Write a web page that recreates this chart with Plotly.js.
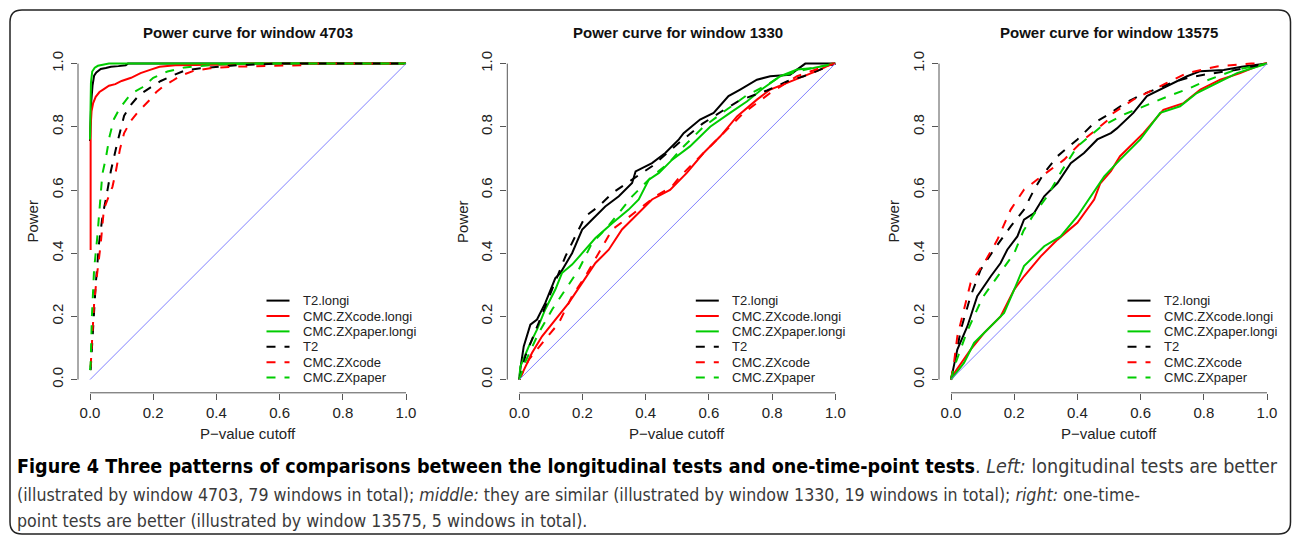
<!DOCTYPE html>
<html>
<head>
<meta charset="utf-8">
<script src="https://cdn.plot.ly/plotly-3.0.1.min.js"></script>
<style>html,body{margin:0;padding:0;background:#fff;}#chart{width:1293px;height:536px;}</style>
</head>
<body>
<div id="chart"></div>
<script>
// ---------------- DATA ----------------
const seriesNames = ['T2.longi','CMC.ZXcode.longi','CMC.ZXpaper.longi','T2','CMC.ZXcode','CMC.ZXpaper'];
const panelTitles = ['Power curve for window 4703','Power curve for window 1330','Power curve for window 13575'];
const tickVals = [0, 0.2, 0.4, 0.6, 0.8, 1.0];
const tickText = ['0.0','0.2','0.4','0.6','0.8','1.0'];
const diagX = [0, 1];
const diagY = [0, 1];

// window 4703
const w4703_T2longi_x = [0, 0.004, 0.008, 0.013, 0.02, 0.034, 0.05, 0.066, 0.09, 0.113, 0.12, 1.0];
const w4703_T2longi_y = [0.755, 0.88, 0.93, 0.962, 0.972, 0.983, 0.986, 0.99, 0.992, 0.995, 1.0, 1.0];
const w4703_ZXcodelongi_x = [0.002, 0.002, 0.005, 0.01, 0.018, 0.03, 0.045, 0.06, 0.08, 0.1, 0.13, 0.16, 0.19, 0.22, 0.27, 0.45, 0.5, 1.0];
const w4703_ZXcodelongi_y = [0.41, 0.80, 0.85, 0.875, 0.895, 0.91, 0.92, 0.93, 0.935, 0.945, 0.955, 0.97, 0.98, 0.99, 0.995, 0.997, 1.0, 1.0];
const w4703_ZXpaperlongi_x = [0, 0.003, 0.007, 0.015, 0.025, 0.04, 0.06, 1.0];
const w4703_ZXpaperlongi_y = [0.76, 0.94, 0.975, 0.987, 0.993, 0.997, 1.0, 1.0];
const w4703_T2_x = [0.002, 0.007, 0.012, 0.018, 0.0285, 0.04, 0.05, 0.066, 0.0865, 0.108, 0.13, 0.155, 0.192, 0.224, 0.261, 0.3, 0.35, 0.4, 0.47, 0.6, 1.0];
const w4703_T2_y = [0.03, 0.12, 0.2, 0.3, 0.43, 0.52, 0.57, 0.66, 0.75, 0.835, 0.87, 0.9, 0.925, 0.945, 0.962, 0.978, 0.985, 0.99, 0.995, 1.0, 1.0];
const w4703_ZXcode_x = [0.002, 0.008, 0.013, 0.022, 0.034, 0.044, 0.058, 0.071, 0.081, 0.095, 0.108, 0.13, 0.15, 0.17, 0.192, 0.21, 0.234, 0.26, 0.287, 0.33, 0.38, 0.45, 0.55, 0.67, 0.68, 1.0];
const w4703_ZXcode_y = [0.04, 0.15, 0.24, 0.33, 0.43, 0.54, 0.58, 0.61, 0.655, 0.73, 0.78, 0.82, 0.845, 0.865, 0.888, 0.91, 0.93, 0.945, 0.962, 0.978, 0.985, 0.99, 0.993, 0.995, 1.0, 1.0];
const w4703_ZXpaper_x = [0, 0.002, 0.006, 0.013, 0.023, 0.03, 0.039, 0.05, 0.062, 0.076, 0.095, 0.118, 0.14, 0.166, 0.2, 0.245, 0.3, 0.35, 0.4, 0.5, 1.0];
const w4703_ZXpaper_y = [0.03, 0.05, 0.2, 0.35, 0.45, 0.53, 0.65, 0.7, 0.77, 0.825, 0.86, 0.89, 0.91, 0.925, 0.955, 0.975, 0.988, 0.992, 0.997, 1.0, 1.0];

// window 1330
const w1330_T2longi_x = [0, 0.003, 0.014, 0.035, 0.056, 0.082, 0.114, 0.13, 0.167, 0.199, 0.23, 0.272, 0.315, 0.357, 0.368, 0.42, 0.462, 0.505, 0.52, 0.572, 0.615, 0.662, 0.699, 0.752, 0.794, 0.857, 0.905, 1.0];
const w1330_T2longi_y = [0, 0.032, 0.105, 0.174, 0.19, 0.242, 0.321, 0.337, 0.40, 0.475, 0.506, 0.548, 0.58, 0.622, 0.659, 0.685, 0.717, 0.76, 0.78, 0.823, 0.844, 0.897, 0.918, 0.949, 0.96, 0.965, 1.0, 1.0];
const w1330_ZXcodelongi_x = [0, 0.005, 0.04, 0.072, 0.114, 0.156, 0.199, 0.241, 0.283, 0.325, 0.367, 0.42, 0.477, 0.53, 0.583, 0.636, 0.689, 0.752, 0.794, 0.847, 0.9, 0.952, 0.99, 1.0];
const w1330_ZXcodelongi_y = [0, 0.01, 0.084, 0.137, 0.19, 0.242, 0.306, 0.369, 0.411, 0.475, 0.517, 0.57, 0.60, 0.654, 0.717, 0.77, 0.833, 0.886, 0.918, 0.939, 0.96, 0.981, 1.0, 1.0];
const w1330_ZXpaperlongi_x = [0, 0.003, 0.03, 0.056, 0.082, 0.114, 0.135, 0.167, 0.199, 0.241, 0.294, 0.346, 0.378, 0.41, 0.442, 0.484, 0.54, 0.604, 0.667, 0.72, 0.773, 0.826, 0.879, 0.931, 1.0];
const w1330_ZXpaperlongi_y = [0, 0.04, 0.105, 0.158, 0.222, 0.285, 0.337, 0.364, 0.40, 0.448, 0.495, 0.538, 0.57, 0.633, 0.654, 0.696, 0.738, 0.80, 0.844, 0.88, 0.923, 0.96, 0.981, 0.986, 1.0];
const w1330_T2_x = [0, 0.019, 0.061, 0.104, 0.146, 0.177, 0.209, 0.251, 0.294, 0.357, 0.42, 0.5, 0.58, 0.65, 0.7, 0.784, 0.85, 0.9, 0.95, 1.0];
const w1330_T2_y = [0, 0.074, 0.179, 0.285, 0.39, 0.453, 0.517, 0.548, 0.59, 0.633, 0.675, 0.745, 0.81, 0.855, 0.885, 0.915, 0.945, 0.96, 0.98, 1.0];
const w1330_ZXcode_x = [0, 0.03, 0.082, 0.125, 0.167, 0.209, 0.251, 0.294, 0.336, 0.378, 0.431, 0.484, 0.509, 0.572, 0.646, 0.71, 0.794, 0.879, 0.963, 1.0];
const w1330_ZXcode_y = [0, 0.063, 0.127, 0.179, 0.264, 0.327, 0.40, 0.475, 0.506, 0.538, 0.58, 0.612, 0.643, 0.706, 0.78, 0.844, 0.907, 0.96, 0.99, 1.0];
const w1330_ZXpaper_x = [0, 0.016, 0.061, 0.104, 0.146, 0.188, 0.23, 0.272, 0.315, 0.357, 0.42, 0.473, 0.515, 0.583, 0.65, 0.72, 0.78, 0.826, 0.9, 0.95, 1.0];
const w1330_ZXpaper_y = [0, 0.05, 0.147, 0.222, 0.285, 0.348, 0.432, 0.475, 0.527, 0.58, 0.643, 0.685, 0.733, 0.80, 0.85, 0.90, 0.93, 0.96, 0.98, 0.99, 1.0];

// window 13575
const w13575_T2longi_x = [0, 0.02, 0.052, 0.083, 0.126, 0.157, 0.178, 0.21, 0.231, 0.263, 0.295, 0.337, 0.379, 0.421, 0.463, 0.506, 0.525, 0.577, 0.62, 0.683, 0.747, 0.789, 0.863, 0.92, 1.0];
const w13575_T2longi_y = [0, 0.095, 0.169, 0.264, 0.327, 0.369, 0.411, 0.453, 0.506, 0.527, 0.58, 0.622, 0.685, 0.717, 0.76, 0.78, 0.795, 0.844, 0.897, 0.928, 0.96, 0.976, 0.98, 0.99, 1.0];
const w13575_ZXcodelongi_x = [0, 0.01, 0.062, 0.105, 0.157, 0.2, 0.231, 0.284, 0.337, 0.4, 0.453, 0.472, 0.506, 0.535, 0.609, 0.672, 0.736, 0.789, 0.852, 0.915, 0.978, 1.0];
const w13575_ZXcodelongi_y = [0, 0.02, 0.095, 0.148, 0.2, 0.285, 0.327, 0.39, 0.443, 0.496, 0.57, 0.62, 0.66, 0.707, 0.78, 0.854, 0.875, 0.918, 0.949, 0.97, 0.995, 1.0];
const w13575_ZXpaperlongi_x = [0, 0.041, 0.073, 0.115, 0.168, 0.2, 0.231, 0.295, 0.347, 0.4, 0.443, 0.485, 0.535, 0.599, 0.662, 0.725, 0.778, 0.842, 0.905, 0.968, 1.0];
const w13575_ZXpaperlongi_y = [0, 0.053, 0.116, 0.158, 0.211, 0.285, 0.359, 0.422, 0.453, 0.517, 0.58, 0.643, 0.696, 0.76, 0.844, 0.865, 0.907, 0.939, 0.97, 0.99, 1.0];
const w13575_T2_x = [0, 0.0095, 0.031, 0.062, 0.094, 0.136, 0.189, 0.231, 0.263, 0.295, 0.337, 0.4, 0.453, 0.506, 0.55, 0.6, 0.65, 0.7, 0.75, 0.8, 0.9, 0.95, 1.0];
const w13575_T2_y = [0, 0.043, 0.158, 0.264, 0.348, 0.411, 0.485, 0.538, 0.601, 0.654, 0.707, 0.76, 0.812, 0.844, 0.875, 0.9, 0.92, 0.94, 0.955, 0.965, 0.98, 0.99, 1.0];
const w13575_ZXcode_x = [0, 0.0095, 0.02, 0.041, 0.062, 0.105, 0.147, 0.189, 0.231, 0.273, 0.316, 0.358, 0.421, 0.495, 0.514, 0.577, 0.683, 0.747, 0.842, 0.9, 0.95, 1.0];
const w13575_ZXcode_y = [0, 0.053, 0.137, 0.222, 0.306, 0.369, 0.443, 0.538, 0.601, 0.633, 0.665, 0.696, 0.76, 0.82, 0.844, 0.886, 0.939, 0.97, 0.991, 0.995, 1.0, 1.0];
const w13575_ZXpaper_x = [0, 0.01, 0.05, 0.1, 0.15, 0.2, 0.229, 0.26, 0.303, 0.35, 0.4, 0.474, 0.55, 0.62, 0.683, 0.75, 0.81, 0.9, 0.95, 1.0];
const w13575_ZXpaper_y = [0, 0.04, 0.15, 0.26, 0.33, 0.40, 0.47, 0.52, 0.578, 0.66, 0.738, 0.80, 0.84, 0.87, 0.895, 0.92, 0.947, 0.98, 0.99, 1.0];

const captionLine1 = [
  {t:'Figure 4 Three patterns of comparisons between the longitudinal tests and one-time-point tests', b:true},
  {t:'. '}, {t:'Left:', i:true}, {t:' longitudinal tests are better'}];
const captionLine2 = [
  {t:'(illustrated by window 4703, 79 windows in total); '}, {t:'middle:', i:true},
  {t:' they are similar (illustrated by window 1330, 19 windows in total); '}, {t:'right:', i:true}, {t:' one-time-'}];
const captionLine3 = [{t:'point tests are better (illustrated by window 13575, 5 windows in total).'}];

// ---------------- STYLE / LAYOUT ----------------
const panels = [
  [[w4703_T2longi_x,w4703_T2longi_y],[w4703_ZXcodelongi_x,w4703_ZXcodelongi_y],[w4703_ZXpaperlongi_x,w4703_ZXpaperlongi_y],
   [w4703_T2_x,w4703_T2_y],[w4703_ZXcode_x,w4703_ZXcode_y],[w4703_ZXpaper_x,w4703_ZXpaper_y]],
  [[w1330_T2longi_x,w1330_T2longi_y],[w1330_ZXcodelongi_x,w1330_ZXcodelongi_y],[w1330_ZXpaperlongi_x,w1330_ZXpaperlongi_y],
   [w1330_T2_x,w1330_T2_y],[w1330_ZXcode_x,w1330_ZXcode_y],[w1330_ZXpaper_x,w1330_ZXpaper_y]],
  [[w13575_T2longi_x,w13575_T2longi_y],[w13575_ZXcodelongi_x,w13575_ZXcodelongi_y],[w13575_ZXpaperlongi_x,w13575_ZXpaperlongi_y],
   [w13575_T2_x,w13575_T2_y],[w13575_ZXcode_x,w13575_ZXcode_y],[w13575_ZXpaper_x,w13575_ZXpaper_y]]
];
const colors = ['#000000','#ff0000','#00cc00','#000000','#ff0000','#00cc00'];
const dashes = ['solid','solid','solid','dash','dash','dash'];

const W = 1293, H = 536;
const FONT = "'Liberation Sans', Arial, Helvetica, sans-serif";
const px = p => p / W;
const py = p => (H - p) / H;

const X0 = [90, 519.3, 951];   // pixel of data x=0 in each panel
const UNIT = 316;              // pixels per data unit
const Y0 = 379.6;              // pixel of data y=0
const XOFF = 12, YOFF = 13.2;  // R-style axis offsets
const TOP = 1.04;

const data = [];
const layout = {
  width: W, height: H, margin: {l:0, r:0, t:0, b:0},
  paper_bgcolor: '#fff', plot_bgcolor: 'rgba(0,0,0,0)',
  showlegend: false, font: {family: FONT, color: '#222', size: 15},
  shapes: [], annotations: []
};

panels.forEach((series, p) => {
  const xa = p === 0 ? 'x' : 'x' + (p + 1);
  const ya = p === 0 ? 'y' : 'y' + (p + 1);
  series.forEach((s, k) => {
    data.push({x: s[0], y: s[1], xaxis: xa, yaxis: ya, type: 'scatter', mode: 'lines',
      name: seriesNames[k], line: {color: colors[k], width: 2, dash: dashes[k]}, hoverinfo: 'skip'});
  });
  data.push({x: diagX, y: diagY, xaxis: xa, yaxis: ya, type: 'scatter', mode: 'lines',
    line: {color: '#8080ff', width: 1}, hoverinfo: 'skip'});

  const x0 = X0[p];
  const left = x0 - XOFF, right = x0 + TOP * UNIT;
  const bottom = Y0 + YOFF, top = Y0 - TOP * UNIT;
  const axCommon = {showgrid: false, zeroline: false, showline: false, ticks: 'outside', ticklen: 6,
    tickcolor: '#555', tickwidth: 1, tickvals: tickVals, ticktext: tickText,
    tickfont: {family: FONT, size: 15, color: '#222'}, fixedrange: true};
  layout[(p === 0 ? 'xaxis' : 'xaxis' + (p + 1))] = Object.assign({}, axCommon, {
    domain: [px(left), px(right)], range: [-XOFF / UNIT, TOP], anchor: ya, ticklabelstandoff: 0});
  layout[(p === 0 ? 'yaxis' : 'yaxis' + (p + 1))] = Object.assign({}, axCommon, {
    domain: [py(bottom), py(top)], range: [-YOFF / UNIT, TOP], anchor: xa, tickangle: -90, ticklabelstandoff: 2});

  // axis lines (R style, only from first to last tick)
  layout.shapes.push({type:'line', xref:'paper', yref:'paper', x0: px(x0), x1: px(x0 + UNIT), y0: py(bottom), y1: py(bottom), line:{color:'#555', width:1}});
  layout.shapes.push({type:'line', xref:'paper', yref:'paper', x0: px(left), x1: px(left), y0: py(Y0), y1: py(Y0 - UNIT), line:{color:'#555', width:1}});

  // titles
  layout.annotations.push({xref:'paper', yref:'paper', x: px((left + right) / 2), y: py(33), text: '<b>' + panelTitles[p] + '</b>',
    showarrow:false, xanchor:'center', yanchor:'middle', font:{family: FONT, size: 15, color:'#111'}});
  layout.annotations.push({xref:'paper', yref:'paper', x: px(x0 + UNIT / 2), y: py(433), text: 'P\u2212value cutoff',
    showarrow:false, xanchor:'center', yanchor:'middle', font:{family: FONT, size: 15, color:'#222'}});
  layout.annotations.push({xref:'paper', yref:'paper', x: px(left - 45), y: py(Y0 - UNIT / 2), text: 'Power', textangle: -90,
    showarrow:false, xanchor:'center', yanchor:'middle', font:{family: FONT, size: 15, color:'#222'}});

  // legend (drawn manually to match R's compact legend)
  seriesNames.forEach((nm, k) => {
    const ry = 300.6 + k * 15.4;
    layout.shapes.push({type:'line', xref:'paper', yref:'paper', x0: px(x0 + 176.5), x1: px(x0 + 199.5), y0: py(ry), y1: py(ry),
      line:{color: colors[k], width: 2, dash: dashes[k] === 'dash' ? 'dash' : 'solid'}});
    layout.annotations.push({xref:'paper', yref:'paper', x: px(x0 + 211), y: py(ry), text: nm, showarrow:false,
      xanchor:'left', yanchor:'middle', font:{family: FONT, size: 13, color:'#222'}});
  });
});

// caption, sized to fit the original line widths
const CAPFONT = "'Liberation Sans Narrow', 'DejaVu Sans Condensed', 'Liberation Sans', Arial, sans-serif";
const ctx = document.createElement('canvas').getContext('2d');
function lineWidthAt100(segs) {
  let w = 0;
  segs.forEach(s => {
    ctx.font = (s.i ? 'italic ' : '') + (s.b ? 'bold ' : '') + '100px ' + CAPFONT;
    w += ctx.measureText(s.t).width;
  });
  return w;
}
function segHtml(segs) {
  return segs.map(s => {
    let t = s.t;
    if (s.b) t = '<span style="color:#000"><b>' + t + '</b></span>';
    if (s.i) t = '<i>' + t + '</i>';
    return t;
  }).join('');
}
const capSize2 = 100 * 1124 / lineWidthAt100(captionLine2);
const capSize1 = 100 * 1261 / lineWidthAt100(captionLine1);
[[captionLine1, capSize1, 466], [captionLine2, capSize2, 494.5], [captionLine3, capSize2, 521]].forEach(([segs, sz, y]) => {
  layout.annotations.push({xref:'paper', yref:'paper', x: px(15), y: py(y), text: segHtml(segs), showarrow:false,
    xanchor:'left', yanchor:'middle', font:{family: CAPFONT, size: sz, color:'#3a3a3a'}});
});

// rounded frame
(function () {
  const L = 10, T = 10, R = 1290.5, B = 534, r = 12;
  const P = (a, b) => px(a) + ',' + py(b);
  const path = 'M' + P(L + r, T) + ' L' + P(R - r, T) + ' Q' + P(R, T) + ' ' + P(R, T + r) +
    ' L' + P(R, B - r) + ' Q' + P(R, B) + ' ' + P(R - r, B) +
    ' L' + P(L + r, B) + ' Q' + P(L, B) + ' ' + P(L, B - r) +
    ' L' + P(L, T + r) + ' Q' + P(L, T) + ' ' + P(L + r, T) + ' Z';
  layout.shapes.push({type:'path', xref:'paper', yref:'paper', path: path, line:{color:'#222', width:1.5}, fillcolor:'rgba(0,0,0,0)'});
})();

Plotly.newPlot('chart', data, layout, {staticPlot: true, displayModeBar: false});
</script>
</body>
</html>
